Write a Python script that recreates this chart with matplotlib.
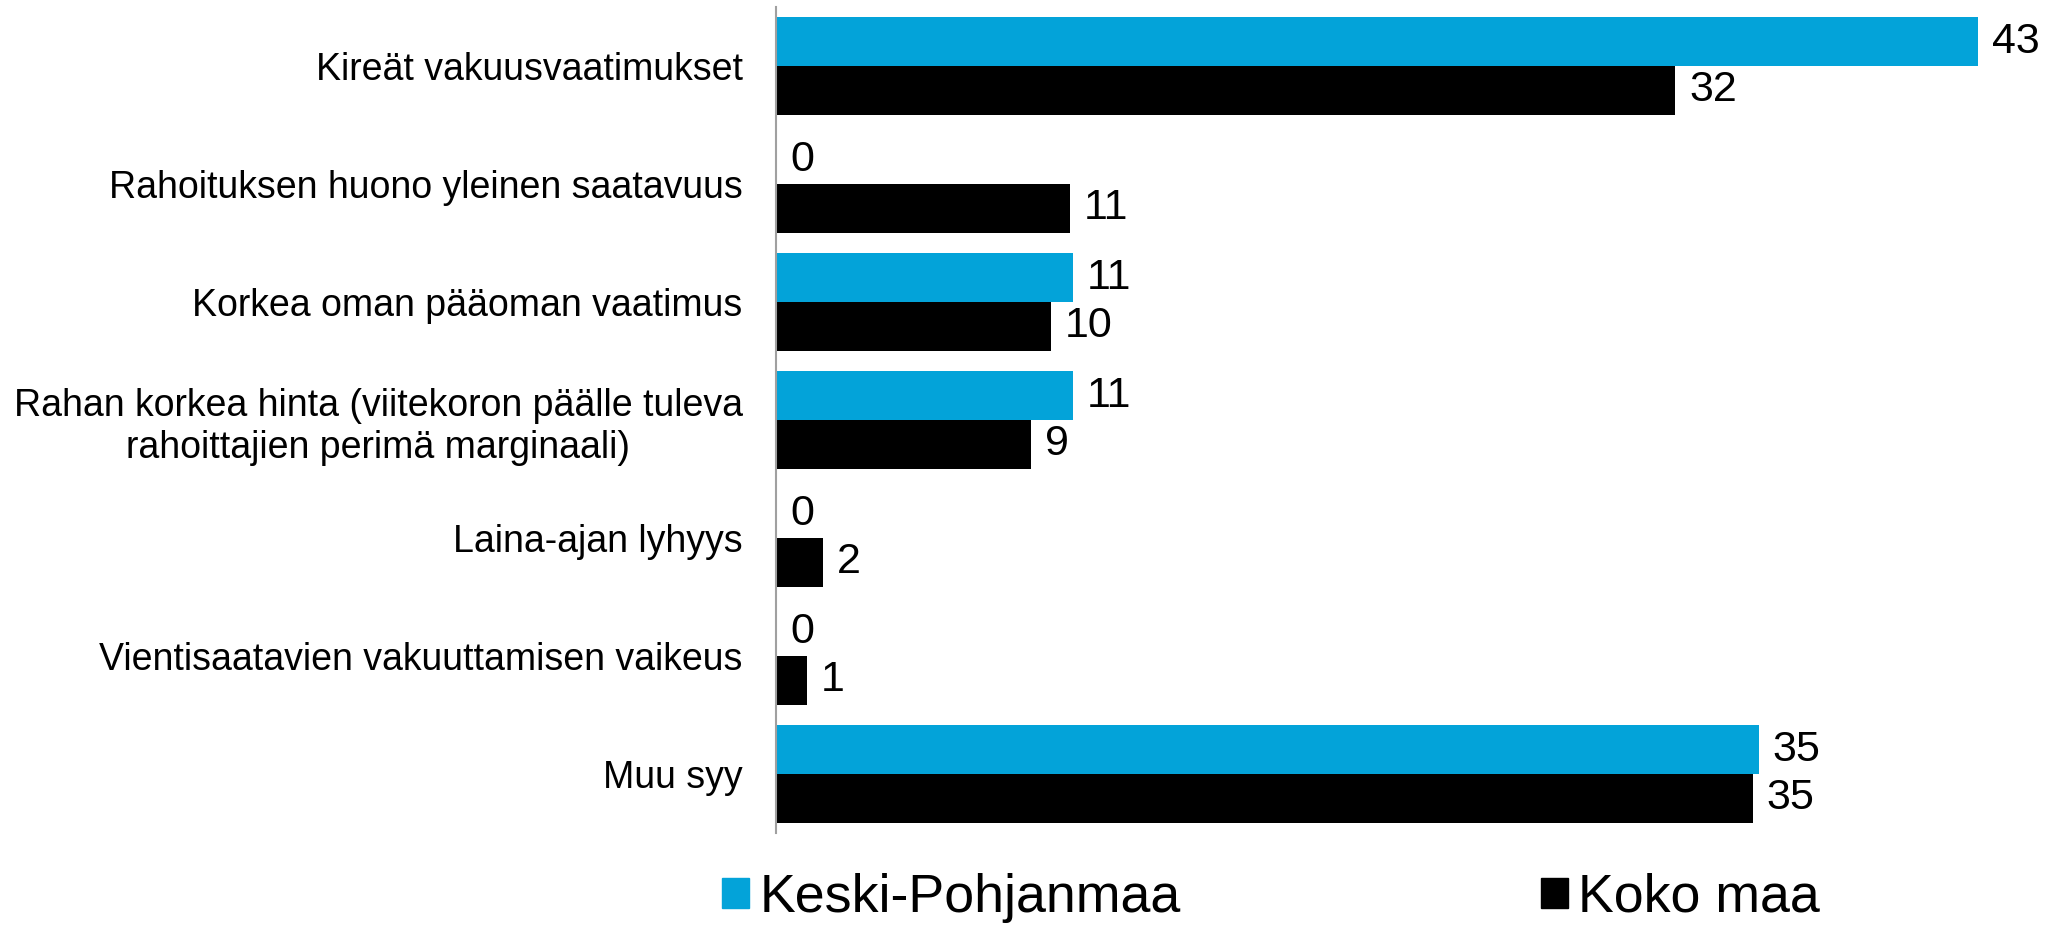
import numpy as np
import matplotlib
matplotlib.use("Agg")
import matplotlib.pyplot as plt
from matplotlib.patches import Patch

plt.rcParams['font.family'] = ['Liberation Sans', 'DejaVu Sans']

categories = [
    "Kireät vakuusvaatimukset",
    "Rahoituksen huono yleinen saatavuus",
    "Korkea oman pääoman vaatimus",
    "Rahan korkea hinta (viitekoron päälle tuleva\nrahoittajien perimä marginaali)",
    "Laina-ajan lyhyys",
    "Vientisaatavien vakuuttamisen vaikeus",
    "Muu syy",
]
# bar lengths (labels show them rounded)
keski_pohjanmaa = [43.3, 0, 10.7, 10.7, 0, 0, 35.4]
koko_maa = [32.4, 10.6, 9.9, 9.2, 1.7, 1.1, 35.2]

blue = "#03A3D9"
black = "#000000"

fig = plt.figure(figsize=(20.52, 9.25), dpi=100)
ax = fig.add_axes([776 / 2052, 1 - 833 / 925, 1249 / 2052, (833 - 7) / 925])

y = np.arange(len(categories))
h = 0.415
bars1 = ax.barh(y - h / 2, keski_pohjanmaa, height=h, color=blue)
bars2 = ax.barh(y + h / 2, koko_maa, height=h, color=black)

for bars, vals in [(bars1, keski_pohjanmaa), (bars2, koko_maa)]:
    for b, v in zip(bars, vals):
        ax.annotate(f"{round(v)}", (b.get_width(), b.get_y() + b.get_height() / 2),
                    xytext=(10, 0), textcoords="offset points",
                    va="center", ha="left", fontsize=31)

ax.set_ylim(len(categories) - 0.5, -0.5)
ax.set_xlim(0, 45)
ax.set_yticks(y)
ax.set_yticklabels(categories, fontsize=27, multialignment="center")
ax.tick_params(axis="y", length=0, pad=24)
ax.set_xticks([])
for s in ["top", "right", "bottom"]:
    ax.spines[s].set_visible(False)
ax.spines["left"].set_color("#A0A0A0")
ax.spines["left"].set_linewidth(1.5)

handles = [Patch(color=blue, label="Keski-Pohjanmaa"), Patch(color=black, label="Koko maa")]
fig.legend(handles=handles, loc="center", bbox_to_anchor=(1271 / 2052, 1 - 898 / 925),
           ncol=2, frameon=False, fontsize=38.7, handlelength=0.5, handleheight=0.5,
           handletextpad=0.2, columnspacing=6.7)

fig.savefig("out.png", dpi=100)
